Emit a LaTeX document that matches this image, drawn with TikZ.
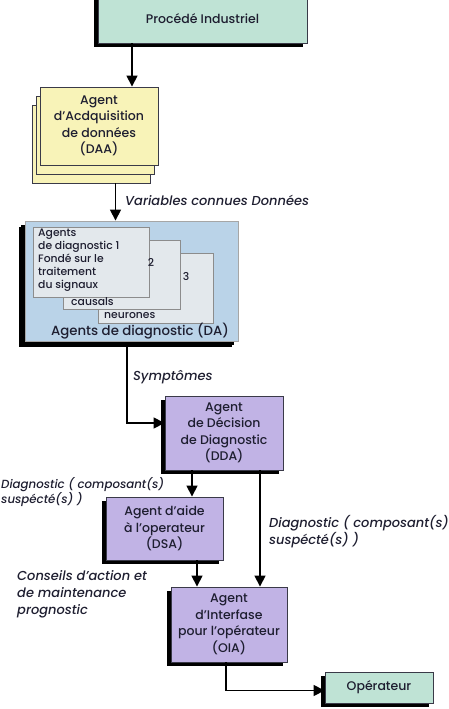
\documentclass[tikz,border=0pt]{standalone}
\usepackage{fontspec}
\setmainfont{Poppins}[UprightFont={* Medium},ItalicFont={* Medium Italic}]
\usetikzlibrary{arrows.meta,shadows}
\definecolor{mint}{HTML}{BFE3D5}
\definecolor{lav}{HTML}{C1B3E5}
\definecolor{pale}{HTML}{F8F3B8}
\definecolor{sky}{HTML}{BAD3E8}
\definecolor{card}{HTML}{E3E8EC}
\definecolor{ink}{HTML}{1E1E30}
\definecolor{edge}{HTML}{3A3A48}
\begin{document}
\begin{tikzpicture}[x=1pt,y=-1pt,
  every node/.style={text=ink},
  boxbase/.style={draw=edge,line width=0.9pt,align=center,inner sep=0pt,font=\fontsize{12.5}{16.5}\selectfont},
  shbox/.style={boxbase,general shadow={fill=black,shadow xshift=-4pt,shadow yshift=-4pt}},
  cardbox/.style={draw=black!45,line width=0.8pt,fill=card,inner sep=0pt},
  arr/.style={line width=1.6pt,-{Triangle[length=11pt,width=11pt]}},
  lbl/.style={font=\fontsize{13}{15.5}\selectfont\itshape,inner sep=0pt,align=left},
  cardtxt/.style={font=\fontsize{10.8}{13}\selectfont,inner sep=0pt,align=left}]
\useasboundingbox (0,0) rectangle (448,709);
% top process
\node[shbox,fill=mint,minimum width=209pt,minimum height=49pt] (proc) at (202.5,18.5) {\raisebox{-5pt}{Procédé Industriel}};
% DAA stack
\node[boxbase,fill=pale,minimum width=118pt,minimum height=78pt] (daaC) at (91,144) {};
\node[boxbase,fill=pale,minimum width=118pt,minimum height=78pt] (daaB) at (95,135) {};
\node[boxbase,fill=pale,minimum width=118pt,minimum height=78pt] (daa) at (99,126) {Agent\\d'Acdquisition\\de données\\(DAA)};
\draw[arr] ([xshift=33pt]daa.north |- proc.south) -- ([xshift=33pt]daa.north);
% DA
\node[shbox,fill=sky,draw=black!35,minimum width=213pt,minimum height=120pt,general shadow={fill=black,shadow xshift=-6pt,shadow yshift=-6pt}] (da) at (131.5,281) {};
\draw[arr] ([xshift=24.5pt]daaC.south) -- ([xshift=24.5pt]daaC.south |- da.north);
\node[lbl,anchor=west] (var) at (125,200) {Variables connues Données};
\node[cardbox,minimum width=115pt,minimum height=70pt] (c3) at (155.5,288) {};
\node[cardbox,minimum width=117pt,minimum height=69pt] (c2) at (121.5,274.5) {};
\node[cardbox,minimum width=116pt,minimum height=70pt] (c1) at (91,262) {};
\node[cardtxt,anchor=north west] (t1) at (38,229) {Agents\\de diagnostic 1\\Fondé sur le\\traitement\\du signaux};
\node[cardtxt] (n2) at (151,262) {2};
\node[cardtxt,anchor=west] (t2) at (71,302) {causals};
\node[cardtxt] (n3) at (186,276) {3};
\node[cardtxt,anchor=west] (t3) at (104,316) {neurones};
\node[font=\fontsize{13.3}{15}\selectfont,inner sep=0pt] (dat) at (140,331) {Agents de diagnostic (DA)};
% DDA
\node[shbox,fill=lav,minimum width=118pt,minimum height=74pt] (dda) at (224,433) {Agent\\de Décision\\de Diagnostic\\(DDA)};
\draw[arr] ([xshift=-4.5pt,yshift=-6pt]da.south) |- ([yshift=10pt]dda.west);
\node[lbl,anchor=west] (sym) at (133,377) {Symptômes};
% DSA
\node[shbox,fill=lav,minimum width=117pt,minimum height=63pt] (dsa) at (164.5,528.5) {Agent d'aide\\à l'operateur\\(DSA)};
\draw[arr] ([xshift=-32pt]dda.south) -- ([xshift=-32pt]dda.south |- dsa.north);
\node[lbl,anchor=north west,font=\fontsize{11.8}{15}\selectfont\itshape] (dg1) at (1,477) {Diagnostic ( composant(s)\\suspécté(s) )};
% OIA
\node[shbox,fill=lav,minimum width=116pt,minimum height=75pt] (oia) at (229,624.5) {Agent\\d'Interfase\\pour l'opérateur\\(OIA)};
\draw[arr] ([xshift=36pt]dda.south) -- ([xshift=36pt]dda.south |- oia.north);
\node[lbl,anchor=north west] (dg2) at (269,515) {Diagnostic ( composant(s)\\suspécté(s) )};
\draw[arr] ([xshift=32.5pt]dsa.south) -- ([xshift=32.5pt]dsa.south |- oia.north);
\node[lbl,anchor=north west,font=\fontsize{13}{17}\selectfont\itshape] (cons) at (17,570) {Conseils d'action et\\de maintenance\\prognostic};
% Operateur
\node[shbox,fill=mint,minimum width=108pt,minimum height=31pt] (ops) at (379,687.5) {Opérateur};
\draw[arr] ([xshift=-3pt]oia.south) |- ([yshift=-3pt]ops.west);
\end{tikzpicture}
\end{document}
